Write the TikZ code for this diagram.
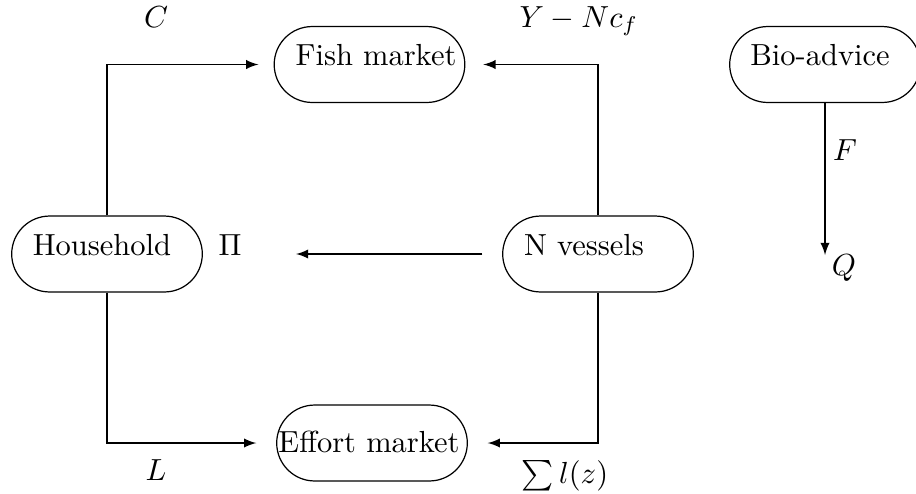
\documentclass[tikz,border=0pt]{standalone}
\usetikzlibrary{shapes.misc,arrows}
\begin{document}
\begin{tikzpicture}[x=0.3279pt,y=-0.3279pt,
 box/.style={rounded rectangle,draw,minimum width=62.5pt,minimum height=24.9pt,inner sep=0pt},
 txt/.style={anchor=base,inner sep=0pt},
 arr/.style={-latex}]
\useasboundingbox (0,0) rectangle (916,493);
% boxes
\node[box] (fish) at (369.5,64.5) {};
\node[box] (hh) at (107,254) {};
\node[box] (nv) at (598,254) {};
\node[box] (eff) at (372,443) {};
\node[box] (bio) at (825,64.5) {};
% box texts
\node[txt] (fisht) at (376,65) {Fish market};
\node[txt] (hht) at (102,255) {Household};
\node[txt] (nvt) at (584,255) {N vessels};
\node[txt] (efft) at (369,452) {Effort market};
\node[txt] (biot) at (820,65) {Bio-advice};
% labels
\node[txt] (c) at (156,27) {$C$};
\node[txt] (y) at (579,27) {$Y-Nc_f$};
\node[txt] (l) at (156,480) {$L$};
\node[txt] (s) at (565,483) {$\sum l(z)$};
\node[txt] (pi) at (230,255) {$\Pi$};
\node[txt] (f) at (845,160) {$F$};
\node[txt] (q) at (844,275) {$Q$};
% connectors
\draw[arr,shorten >=5pt] (hh.north) |- (fish.west);
\draw[arr,shorten >=5.9pt] (nv.north) |- (fish.east);
\draw[arr,shorten >=6.5pt] (hh.south) |- (eff.west);
\draw[arr,shorten >=6.5pt] (nv.south) |- (eff.east);
\draw[arr,shorten <=6.5pt,shorten >=17.7pt] (nv.west) -- (pi.east |- nv.west);
\draw[arr] (bio.south) -- (bio.south |- 0,255);
\end{tikzpicture}
\end{document}
